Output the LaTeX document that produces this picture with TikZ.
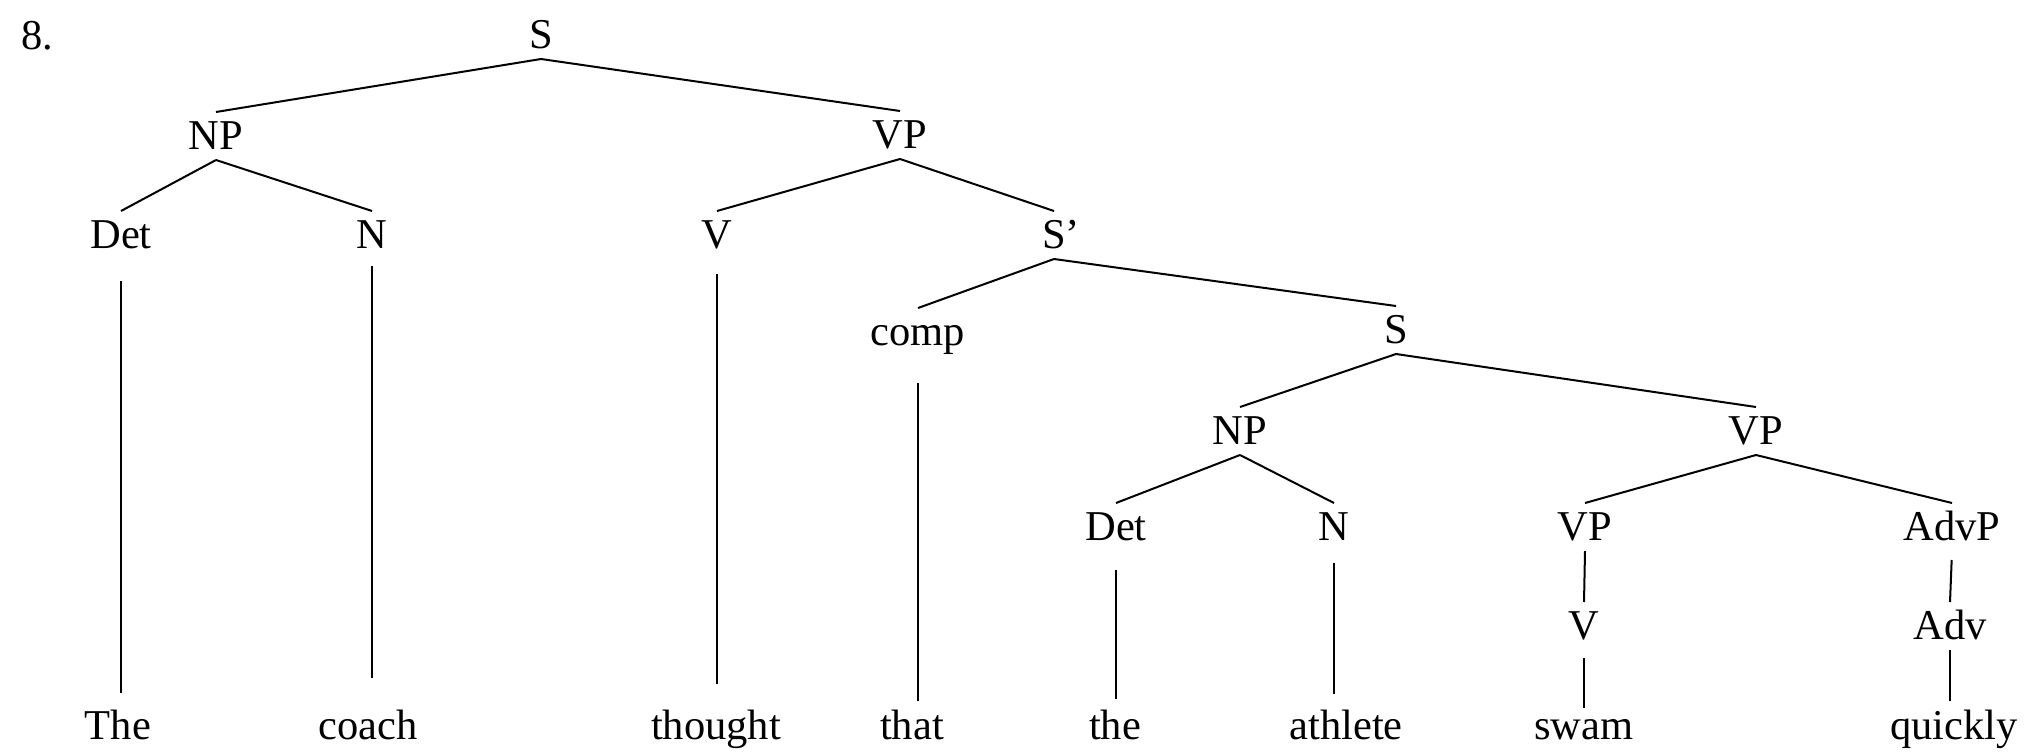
\documentclass[tikz,border=0pt]{standalone}
\usepackage{fontspec}
\setmainfont{Liberation Serif}
\begin{document}
\begin{tikzpicture}[x=0.5pt,y=-0.5pt,line width=1pt,
    font=\fontsize{21.25}{25}\selectfont,
    cat/.style={anchor=base,inner sep=0pt,text height=18pt,text depth=5pt},
    word/.style={anchor=base,inner sep=0pt,text height=15pt,text depth=5pt}]
\useasboundingbox (0,0) rectangle (2032,755);
\node[anchor=base west,inner sep=0pt] (num) at (20,49) {8.};
% categories
\node[cat] (s0) at (541,48) {S};
\node[cat] (np1) at (216,149) {NP};
\node[cat] (vp1) at (900,148) {VP};
\node[cat] (det1) at (121,248) {Det};
\node[cat] (n1) at (372,248) {N};
\node[cat] (v1) at (717,248) {V};
\node[cat] (sbar) at (1054,248) {S\rlap{’}};
\node[cat] (comp) at (918,345) {comp};
\node[cat] (s2) at (1396,343) {S};
\node[cat] (np2) at (1240,444) {NP};
\node[cat] (vp2) at (1756,444) {VP};
\node[cat] (det2) at (1116,540) {Det};
\node[cat] (n2) at (1334,540) {N};
\node[cat] (vp3) at (1585,540) {VP};
\node[cat] (advp) at (1952,540) {AdvP};
\node[cat] (v2) at (1584,639) {V};
\node[cat] (adv) at (1950,639) {Adv};
% words
\node[word] (the) at (118,739) {The};
\node[word] (coach) at (368,739) {coach};
\node[word] (thought) at (716,739) {thought};
\node[word] (that) at (912,739) {that};
\node[word] (the2) at (1115,739) {the};
\node[word] (athlete) at (1346,739) {athlete};
\node[word] (swam) at (1584,739) {swam};
\node[word] (quickly) at (1954,739) {quickly};
% branches
\draw (s0.south)--(np1.north) (s0.south)--(vp1.north);
\draw (np1.south)--(det1.north) (np1.south)--(n1.north);
\draw (vp1.south)--(v1.north) (vp1.south)--(sbar.north);
\draw (sbar.south)--(comp.north) (sbar.south)--(s2.north);
\draw (s2.south)--(np2.north) (s2.south)--(vp2.north);
\draw (np2.south)--(det2.north) (np2.south)--(n2.north);
\draw (vp2.south)--(vp3.north) (vp2.south)--(advp.north);
\draw (vp3.south)--(v2.north);
\draw[shorten <=4.5pt] (advp.south)--(adv.north);
% lines down to the words
\draw[shorten <=11pt,shorten >=7.5pt] (det1.south)--(det1.south|-the.north);
\draw[shorten <=3.5pt,shorten >=15pt] (n1.south)--(n1.south|-coach.north);
\draw[shorten <=7.5pt,shorten >=12pt] (v1.south)--(v1.south|-thought.north);
\draw[shorten <=13.5pt,shorten >=3.5pt] (comp.south)--(comp.south|-that.north);
\draw[shorten <=9.5pt,shorten >=4.5pt] (det2.south)--(det2.south|-the2.north);
\draw[shorten <=6pt,shorten >=7pt] (n2.south)--(n2.south|-athlete.north);
\draw[shorten <=4pt] (v2.south)--(v2.south|-swam.north);
\draw[shorten >=3.5pt] (adv.south)--(adv.south|-quickly.north);
\end{tikzpicture}
\end{document}
